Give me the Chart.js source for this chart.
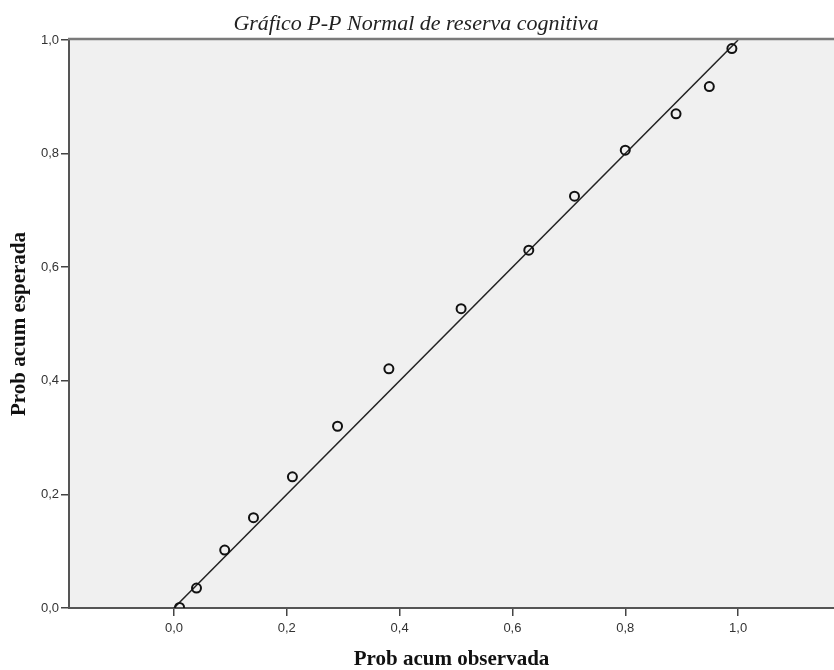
<!DOCTYPE html>
<html>
<head>
<meta charset="utf-8">
<script src="https://cdn.jsdelivr.net/npm/chart.js@4/dist/chart.umd.min.js"></script>
<style>
  html, body { margin: 0; padding: 0; background: #ffffff; }
  #wrap { width: 834px; height: 670px; position: relative; }
</style>
</head>
<body>
<div id="wrap"><canvas id="c" width="834" height="670"></canvas></div>
<script>
// ---- data ----
const chartTitle = "Gráfico P-P Normal de reserva cognitiva";
const xAxisTitle = "Prob acum observada";
const yAxisTitle = "Prob acum esperada";
const observed = [0.010, 0.040, 0.090, 0.141, 0.210, 0.290, 0.381, 0.509, 0.629, 0.710, 0.800, 0.890, 0.949, 0.989];
const expected = [0.001, 0.035, 0.102, 0.159, 0.231, 0.320, 0.421, 0.527, 0.630, 0.725, 0.806, 0.870, 0.918, 0.985];
const refLineX = [0, 1];
const refLineY = [0, 1];
const xTicks = [0, 0.2, 0.4, 0.6, 0.8, 1.0];
const yTicks = [0, 0.2, 0.4, 0.6, 0.8, 1.0];

const points = observed.map((v, i) => ({ x: v, y: expected[i] }));
const refLine = refLineX.map((v, i) => ({ x: v, y: refLineY[i] }));
const fmt = v => v.toFixed(1).replace('.', ',');

const bgPlugin = {
  id: 'bgPlugin',
  beforeDraw(chart) {
    const { ctx, chartArea: a } = chart;
    ctx.save();
    ctx.fillStyle = '#f0f0f0';
    ctx.fillRect(a.left, a.top, a.right - a.left, a.bottom - a.top);
    ctx.restore();
  },
  afterDraw(chart) {
    const { ctx, chartArea: a } = chart;
    ctx.save();
    // top border
    ctx.strokeStyle = '#7a7a7a';
    ctx.lineWidth = 2.5;
    ctx.beginPath();
    ctx.moveTo(a.left - 1, a.top - 1);
    ctx.lineTo(a.right, a.top - 1);
    ctx.stroke();
    // title
    ctx.fillStyle = '#222';
    ctx.font = 'italic 22px "Liberation Serif", "DejaVu Serif", serif';
    ctx.textAlign = 'center';
    ctx.textBaseline = 'alphabetic';
    ctx.fillText(chartTitle, 416, 30);
    ctx.restore();
  }
};

new Chart(document.getElementById('c'), {
  type: 'scatter',
  data: {
    datasets: [
      {
        label: 'ref',
        data: refLine,
        showLine: true,
        borderColor: '#222',
        borderWidth: 1.5,
        pointRadius: 0,
        fill: false,
        clip: 0,
        order: 2
      },
      {
        label: 'pts',
        data: points,
        showLine: false,
        pointStyle: 'circle',
        pointRadius: 4.5,
        pointBorderWidth: 2,
        borderColor: '#111',
        backgroundColor: 'rgba(0,0,0,0)',
        pointBackgroundColor: 'rgba(0,0,0,0)',
        pointBorderColor: '#111',
        clip: 0,
        order: 1
      }
    ]
  },
  options: {
    responsive: false,
    animation: false,
    devicePixelRatio: 1,
    layout: { autoPadding: false, padding: { top: 40, right: 0, left: 0, bottom: 0 } },
    plugins: {
      legend: { display: false },
      tooltip: { enabled: false },
      title: { display: false }
    },
    scales: {
      x: {
        type: 'linear',
        min: -0.186,
        max: 1.17,
        afterBuildTicks(scale) { scale.ticks = xTicks.map(v => ({ value: v })); },
        afterFit(scale) { scale.height = 62; },
        ticks: {
          callback: v => fmt(v),
          color: '#333',
          font: { family: '"Liberation Sans", Arial, sans-serif', size: 13 },
          padding: 5,
          maxRotation: 0
        },
        grid: { drawOnChartArea: false, drawTicks: true, tickLength: 8, color: '#444', lineWidth: 1.5 },
        border: { display: true, color: '#555', width: 2 },
        title: {
          display: true,
          text: xAxisTitle,
          color: '#111',
          font: { family: '"Liberation Serif", "DejaVu Serif", serif', size: 21, weight: 'bold', lineHeight: 1 },
          padding: { top: 0, bottom: 0 }
        }
      },
      y: {
        type: 'linear',
        min: 0,
        max: 1,
        afterBuildTicks(scale) { scale.ticks = yTicks.map(v => ({ value: v })); },
        afterFit(scale) { scale.width = 69; },
        ticks: {
          callback: v => fmt(v),
          color: '#333',
          font: { family: '"Liberation Sans", Arial, sans-serif', size: 13 },
          padding: 2
        },
        grid: { drawOnChartArea: false, drawTicks: true, tickLength: 8, color: '#444', lineWidth: 1.5 },
        border: { display: true, color: '#555', width: 2 },
        title: {
          display: true,
          text: yAxisTitle,
          color: '#111',
          font: { family: '"Liberation Serif", "DejaVu Serif", serif', size: 21, weight: 'bold', lineHeight: 1 },
          padding: { top: 9.5, bottom: 0 }
        }
      }
    }
  },
  plugins: [bgPlugin]
});
</script>
</body>
</html>
